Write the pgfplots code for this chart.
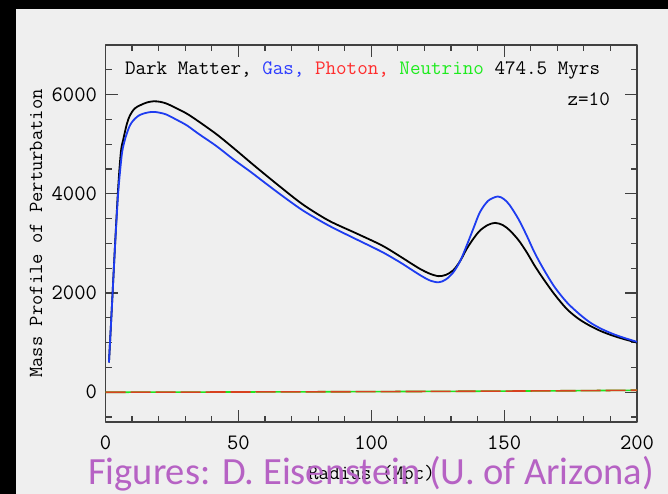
\documentclass[border=0pt]{standalone}
\usepackage{fontspec}
\usepackage{pgfplots}
\pgfplotsset{compat=1.18}
\newfontfamily\capfont{Carlito}
\definecolor{bggray}{RGB}{239,239,239}
\definecolor{axgray}{RGB}{64,64,64}
\definecolor{gasblue}{RGB}{30,60,240}
\definecolor{gastxt}{RGB}{45,60,255}
\definecolor{phottxt}{RGB}{255,45,45}
\definecolor{neutxt}{RGB}{30,235,30}
\definecolor{photred}{RGB}{215,65,30}
\definecolor{neugreen}{RGB}{30,230,30}
\definecolor{capurple}{RGB}{182,98,196}
\begin{document}
\begin{tikzpicture}[x=1pt,y=1pt]
\fill[black] (0,0) rectangle (668,494);
\fill[bggray] (16,0) rectangle (668,485);
\begin{axis}[at={(105.5pt,72pt)}, anchor=south west, scale only axis,
  width=531.5pt, height=377pt,
  xmin=0, xmax=200, ymin=-600, ymax=7000,
  xtick={0,50,100,150,200}, ytick={0,2000,4000,6000},
  minor xtick={10,20,30,40,60,70,80,90,110,120,130,140,160,170,180,190},
  minor ytick={-500,500,1000,1500,2500,3000,3500,4500,5000,5500,6500},
  tick align=inside, major tick length=12pt, minor tick length=6pt,
  axis line style={axgray, line width=1.3pt},
  every tick/.style={axgray, line width=1.2pt},
  scaled ticks=false,
  /pgf/number format/assume math mode=true,
  /pgf/number format/1000 sep={},
  ticklabel style={font=\fontsize{22}{24}\selectfont\ttfamily},
  xticklabel style={yshift=-10pt},
  yticklabel style={xshift=-5pt},
  line join=round,
]
\addplot[neugreen, line width=1.6pt] coordinates {(0,0) (25,2) (50,5) (75,8) (100,12) (125,17) (150,23) (175,30) (200,40)};
\addplot[photred, line width=1.6pt, dash pattern=on 20pt off 5pt] coordinates {(0,0) (25,2) (50,5) (75,8) (100,12) (125,17) (150,23) (175,30) (200,40)};
\addplot[black, line width=1.8pt, smooth, tension=0.5] coordinates {
(1.3,600) (2.3,1620) (3.6,2980) (4.8,4150) (5.8,4850) (6.7,5100) (8,5400) (9.2,5582) (11,5720) (13,5784) (15.5,5840) (18,5865) (20.5,5855) (23,5818) (26.5,5730) (30.6,5616) (35,5460) (41.8,5200) (48,4930) (54.4,4640) (58.1,4475) (66,4130) (74.4,3780) (84,3460) (94.5,3200) (104,2960) (110.8,2740) (114.6,2610) (118.4,2485) (122,2390) (125.3,2340) (128,2365) (130.9,2460) (133.5,2650) (135.9,2889) (138.5,3100) (140.9,3259) (143.8,3370) (146.6,3414) (149.5,3370) (152.2,3259) (155.5,3060) (158.5,2822) (161.5,2550) (164.8,2283) (169,1970) (173.6,1677) (178,1480) (182.3,1340) (186.5,1230) (191.1,1137) (195.5,1065) (200,1000)};
\addplot[gasblue, line width=1.8pt, smooth, tension=0.5] coordinates {
(1.3,600) (2.3,1610) (3.6,2956) (4.8,4034) (6.1,4774) (7,5030) (8,5212) (9.2,5380) (10.5,5481) (12.3,5570) (14.2,5616) (16.5,5645) (18.6,5650) (20.8,5630) (23,5596) (26.5,5500) (30.6,5380) (35,5210) (41.8,4960) (48,4700) (54.4,4451) (58.1,4300) (66,3980) (74.4,3660) (84,3360) (94.5,3080) (104,2830) (110.8,2620) (114.6,2490) (118.4,2360) (122,2255) (125.3,2216) (128,2270) (130.9,2418) (133.5,2650) (135.9,2956) (138.5,3310) (140.9,3630) (144,3860) (147.6,3946) (150,3890) (152.2,3764) (155.5,3480) (158.5,3158) (161.5,2810) (164.8,2485) (169,2120) (173.6,1812) (178,1590) (182.3,1408) (186.5,1280) (191.1,1172) (195.5,1090) (200,1016)};
\end{axis}
\node[anchor=base west, inner sep=0, font=\fontsize{20.5}{22}\selectfont\ttfamily] at (124.8,419) {Dark Matter, \textcolor{gastxt}{Gas,} \textcolor{phottxt}{Photon,} \textcolor{neutxt}{Neutrino} 474.5 Myrs};
\node[anchor=base east, inner sep=0, font=\fontsize{20.5}{22}\selectfont\ttfamily] at (610,388) {z=10};
\node[anchor=base, inner sep=0, font=\fontsize{20.5}{22}\selectfont\ttfamily] at (371.5,14) {Radius (Mpc)};
\node[rotate=90, anchor=center, inner sep=0, font=\fontsize{20}{22}\selectfont\ttfamily] at (36,260.5) {Mass Profile of Perturbation};
\node[anchor=base west, inner sep=0, text=capurple, font=\capfont\fontsize{38.5}{40}\selectfont] at (88,9) {Figures: D. Eisenstein (U. of Arizona)};
\pgfresetboundingbox
\path (0,0) rectangle (668,494);
\end{tikzpicture}
\end{document}
